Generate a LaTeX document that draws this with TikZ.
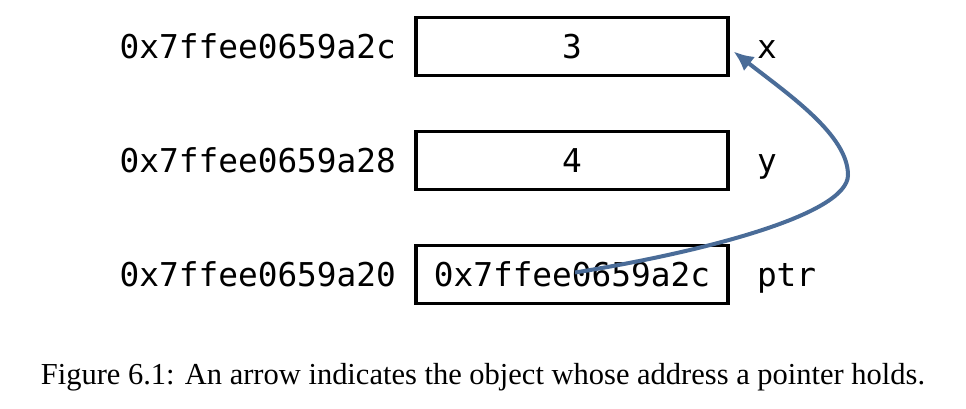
\documentclass[tikz,border=0pt]{standalone}
\usepackage{fontspec}
\setmainfont{Liberation Serif}
\setmonofont{DejaVu Sans Mono}
\usepackage{xcolor}
\usepackage{tikz}
\usetikzlibrary{arrows.meta,positioning}
\definecolor{ptrblue}{HTML}{4A6C98}

\begin{document}
\begin{tikzpicture}[x=0.5pt,y=-0.5pt,
  cell/.style={draw=black,line width=1.6pt,minimum width=156pt,minimum height=29pt,inner sep=0pt,
    font=\fontsize{16.4}{18}\selectfont\ttfamily},
  addr/.style={inner sep=0pt,text height=12pt,text depth=0pt,font=\fontsize{16.4}{18}\selectfont\ttfamily},
  ptrarrow/.style={draw=ptrblue,line width=2pt,-{Latex[length=10pt,width=9pt]}},
  node distance=9pt]
  \useasboundingbox (0,0) rectangle (966,408);
  \node[cell] (xval) at (572,46.5) {3};
  \node[cell] (yval) at (572,160.5) {4};
  \node[cell] (pval) at (572,274.5) {0x7ffee0659a2c};
  \node[addr,left=of xval] (xaddr) {0x7ffee0659a2c};
  \node[addr,left=of yval] (yaddr) {0x7ffee0659a28};
  \node[addr,left=of pval] (paddr) {0x7ffee0659a20};
  \node[addr,right=13.5pt of xval] (xname) {x};
  \node[addr,right=13.5pt of yval] (yname) {y};
  \node[addr,right=13.5pt of pval] (pname) {ptr};
  \coordinate (bend) at (848,175);
  \coordinate (xtip) at ([xshift=2pt,yshift=-2.5pt]xval.east);
  \draw[ptrarrow] ([xshift=1.5pt,yshift=1pt]pval.center) .. controls +(125,-20) and +(0,40) .. (bend)
    .. controls +(0,-40) and +(55,43) .. (xtip);
  \node[font=\fontsize{15.25}{17}\selectfont] (caption) at (483,377)
    {Figure 6.1: An arrow indicates the object whose address a pointer holds.};
\end{tikzpicture}
\end{document}
